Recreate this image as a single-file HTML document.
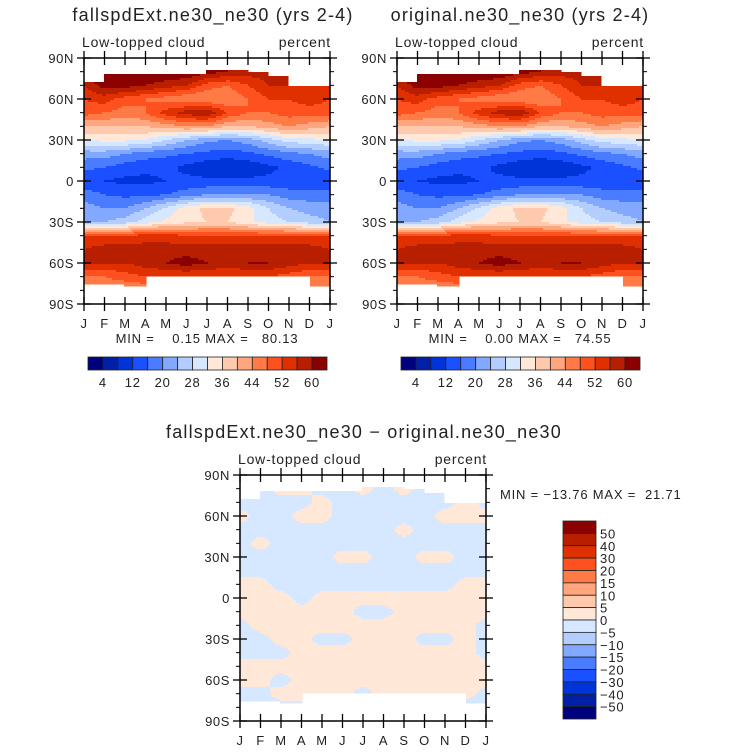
<!DOCTYPE html>
<html><head><meta charset="utf-8">
<style>
body{margin:0;background:#fff;}
svg text{font-family:"Liberation Sans",sans-serif;fill:#222;white-space:pre;}
</style></head>
<body>
<svg id="fig" width="732" height="751" viewBox="0 0 732 751" xmlns="http://www.w3.org/2000/svg"></svg>
<script>
// ---- data ----
const months = ["J","F","M","A","M","J","J","A","S","O","N","D","J"];
const latRows = [80,70,60,50,40,30,20,10,0,-10,-20,-30,-40,-50,-60,-70,-80];
const latTickLabels = ["90N","60N","30N","0","30S","60S","90S"];
const lowCloudExt = [
 [64,64,64,64,64,64,62,60,58,58,58,60,64],
 [56,62,62,60,58,56,50,48,52,56,56,56,56],
 [52,54,50,48,46,44,44,44,48,52,52,54,52],
 [50,48,46,48,54,58,60,52,48,48,50,50,50],
 [40,40,40,40,42,44,44,40,40,42,44,42,40],
 [32,33,33,32,28,24,21,20,22,26,30,31,32],
 [22,22,20,18,17,16,15,14,15,17,19,20,22],
 [17,16,14,13,13,11,9,8,9,11,13,15,17],
 [13,12,11,11,12,13,13,13,13,13,13,13,13],
 [18,16,15,15,16,18,20,20,20,20,18,18,18],
 [22,20,20,24,29,34,37,37,34,28,24,22,22],
 [24,24,26,30,33,35,36,36,33,30,28,26,24],
 [52,52,52,54,54,52,52,52,52,52,52,52,52],
 [56,58,58,58,58,58,58,58,58,58,58,58,56],
 [56,56,56,58,60,62,60,58,60,60,58,56,56],
 [48,48,50,52,52,52,52,52,52,52,50,48,48],
 [44,44,44,44,44,44,44,44,44,44,44,44,44]];
const lowCloudOrig = [
 [64,64,64,64,64,64,62,60,58,58,58,60,64],
 [56,62,62,60,58,56,50,48,52,56,56,56,56],
 [52,54,50,48,46,44,44,44,48,52,52,54,52],
 [50,48,46,48,54,58,60,52,48,48,50,50,50],
 [40,40,40,40,42,44,44,40,40,42,44,42,40],
 [32,33,33,32,28,24,21,20,22,26,30,31,32],
 [22,22,20,18,17,16,15,14,15,17,19,20,22],
 [17,16,14,13,13,11,9,8,9,11,13,15,17],
 [13,12,11,11,12,13,13,13,13,13,13,13,13],
 [18,16,15,15,16,18,20,20,20,20,18,18,18],
 [22,20,20,24,29,34,37,37,34,28,24,22,22],
 [24,24,26,30,33,35,36,36,33,30,28,26,24],
 [52,52,52,54,54,52,52,52,52,52,52,52,52],
 [56,58,58,58,58,58,58,58,58,58,58,58,56],
 [56,56,56,58,60,62,60,58,60,60,58,56,56],
 [48,48,50,52,52,52,52,52,52,52,50,48,48],
 [44,44,44,44,44,44,44,44,44,44,44,44,44]];
const diffVals = [
 [-2,-2,2,2,-2,-2,2,-2,2,-2,-2,-2,-2],
 [-2,-2,-2,-2,2,-2,-2,-2,-2,-2,-2,2,-2],
 [2,-2,-2,2,2,-2,-2,-2,-2,-2,2,2,2],
 [-2,-2,-2,-2,-2,-2,-2,-2,2,-2,-2,-2,-2],
 [-2,2,-2,-2,-2,-2,-2,-2,-2,-2,-2,-2,-2],
 [-2,-2,-2,-2,-2,2,2,-2,-2,2,2,-2,-2],
 [-2,-2,-2,-2,-2,-2,-2,-2,-2,-2,-2,-2,-2],
 [2,2,-2,-2,-2,-2,-2,-2,-2,-2,-2,2,2],
 [2,2,2,-2,2,2,2,2,2,2,2,2,2],
 [2,2,2,2,2,2,-2,-2,2,2,2,2,2],
 [-2,2,2,2,2,2,2,2,2,2,2,2,-2],
 [-2,-2,2,2,-2,-2,2,2,2,-2,-2,2,-2],
 [-2,-2,-2,2,2,2,2,2,2,2,2,2,-2],
 [2,2,2,2,2,2,2,2,2,2,2,2,2],
 [2,2,-2,2,2,2,2,2,2,2,2,2,2],
 [-2,-2,2,2,2,2,-2,2,2,2,2,2,-2],
 [-2,-2,-2,-2,-2,-2,-2,-2,-2,-2,-2,-2,-2]];
const topEdge = [73,79,79,79,79,79,81,81,80,77,70,70,70];
const bottomEdge = [-76,-76,-77,-70,-70,-70,-70,-70,-70,-70,-70,-77,-77];
const levelsMain = [4,8,12,16,20,24,28,32,36,40,44,48,52,56,60];
const levelLabelsMain = ["4","12","20","28","36","44","52","60"];
const levelsDiff = [-50,-40,-30,-20,-15,-10,-5,0,5,10,15,20,30,40,50];
const palette = ["#00007f","#0020a8","#0033d8","#1a50ff","#4a7cff","#82a8ff","#b4cdff","#d6e8ff","#ffe8d8","#ffc9ad","#ffa67f","#ff7a45","#ff511f","#e03000","#b81e00","#8b0000"];

const NS="http://www.w3.org/2000/svg";
const svg=document.getElementById('fig');
function mk(tag,attrs,parent){const e=document.createElementNS(NS,tag);for(const k in attrs)e.setAttribute(k,attrs[k]);(parent||svg).appendChild(e);return e;}
function txt(s,x,y,size,anchor,name,parent,ls){const t=mk('text',{x:x,y:y,'font-size':size,'text-anchor':anchor||'start','letter-spacing':ls||0.6},parent);t.textContent=s;return t;}
function colorFor(v,levels){let i=0;while(i<levels.length&&v>=levels[i])i++;return palette[i];}
function sample(data,m,lat){
  let r=(80-lat)/10; r=Math.max(0,Math.min(16,r));
  const r0=Math.min(15,Math.floor(r)), fr=r-r0;
  const c0=Math.min(11,Math.floor(m)), fc=m-c0;
  const a=data[r0][c0]*(1-fc)+data[r0][c0+1]*fc;
  const b=data[r0+1][c0]*(1-fc)+data[r0+1][c0+1]*fc;
  return a*(1-fr)+b*fr;
}
function panel(x0,y0,data,levels,name,title,titleX,minmax){
  const W=246,H=246;
  const g=mk('g',{});
  
  
  const xs=m=>x0+m/12*W, ys=lat=>y0+(90-lat)/180*H;
  const field=mk('g',{},g);
  
  
  const step=2;
  for(let py=0;py<H;py+=step){
    const lat=90-(py+step/2)/H*180;
    let runStart=null,runCol=null;
    const flush=(end)=>{if(runCol){const r=mk('rect',{x:x0+runStart,y:y0+py,width:end-runStart+0.5,height:step+0.5,fill:runCol},field);}};
    for(let px=0;px<W;px+=step){
      const m=(px+step/2)/W*12;
      const mi=Math.min(12,Math.floor(m));
      let col=null;
      if(lat<=topEdge[mi]&&lat>=bottomEdge[mi]) col=colorFor(sample(data,m,lat),levels);
      if(col!==runCol){flush(px);runStart=px;runCol=col;}
    }
    flush(W);
  }
  const fr=mk('rect',{x:x0,y:y0,width:W,height:H,fill:'none',stroke:'#000','stroke-width':1.5},g);
  
  latTickLabels.forEach((l,i)=>{
    const y=ys(90-30*i);
    mk('line',{x1:x0-7,x2:x0+7,y1:y,y2:y,stroke:'#000','stroke-width':1.3},g);
    mk('line',{x1:x0+W-7,x2:x0+W+7,y1:y,y2:y,stroke:'#000','stroke-width':1.3},g);
    txt(l,x0-10,y+5,13,'end','y-tick-label',g);
    if(i<6){for(let k=1;k<3;k++){const yy=ys(90-30*i-10*k);
      mk('line',{x1:x0-4,x2:x0,y1:yy,y2:yy,stroke:'#000'},g);
      mk('line',{x1:x0+W,x2:x0+W+4,y1:yy,y2:yy,stroke:'#000'},g);}}
  });
  months.forEach((mn,i)=>{
    const x=xs(i);
    mk('line',{x1:x,x2:x,y1:y0-7,y2:y0+7,stroke:'#000','stroke-width':1.3},g);
    mk('line',{x1:x,x2:x,y1:y0+H-7,y2:y0+H+7,stroke:'#000','stroke-width':1.3},g);
    txt(mn,x,y0+H+24,13,'middle','x-tick-label',g);
  });
  txt(title,titleX,y0-37,18,'middle','plot-title',g,1.2);
  txt('Low-topped cloud',x0-2,y0-11,14,'start','variable-label',g,0.8);
  txt('percent',x0+W+1,y0-11,14,'end','units-label',g,0.8);
  if(minmax) txt(minmax,x0+W/2,y0+H+39,13,'middle','min-max-label',g,0.8);
}
panel(84,58,lowCloudExt,levelsMain,'panel-fallspdext','fallspdExt.ne30_ne30 (yrs 2-4)',213,'MIN =    0.15 MAX =   80.13');
panel(397,58,lowCloudOrig,levelsMain,'panel-original','original.ne30_ne30 (yrs 2-4)',520,'MIN =    0.00 MAX =   74.55');
panel(240,475,diffVals,levelsDiff,'panel-difference','fallspdExt.ne30_ne30 \u2212 original.ne30_ne30',364,null);
txt('MIN = \u221213.76 MAX =  21.71',500,499,13,'start','diff-min-max-label',null,0.8);

function hbar(x0,name){
  const g=mk('g',{});
  const w=239/16;
  palette.forEach((c,i)=>{const r=mk('rect',{x:x0+i*w,y:357,width:w,height:13,fill:c,stroke:'#222','stroke-width':0.8},g);});
  levelLabelsMain.forEach((l,i)=>txt(l,x0+(1+2*i)*w,387,13,'middle','colorbar-label',g,0.8));
}
hbar(88,'colorbar-ext');hbar(401,'colorbar-orig');
(function(){
  const g=mk('g',{});
  const h=198/16;
  for(let i=0;i<16;i++){const r=mk('rect',{x:563,y:521+i*h,width:33,height:h,fill:palette[15-i],stroke:'#222','stroke-width':0.8},g);}
  for(let i=0;i<15;i++){const v=levelsDiff[14-i];txt(v<0?'\u2212'+(-v):String(v),600,521+(i+1)*h+5,13,'start','colorbar-label',g,0.8);}
})();
</script>
</body></html>
